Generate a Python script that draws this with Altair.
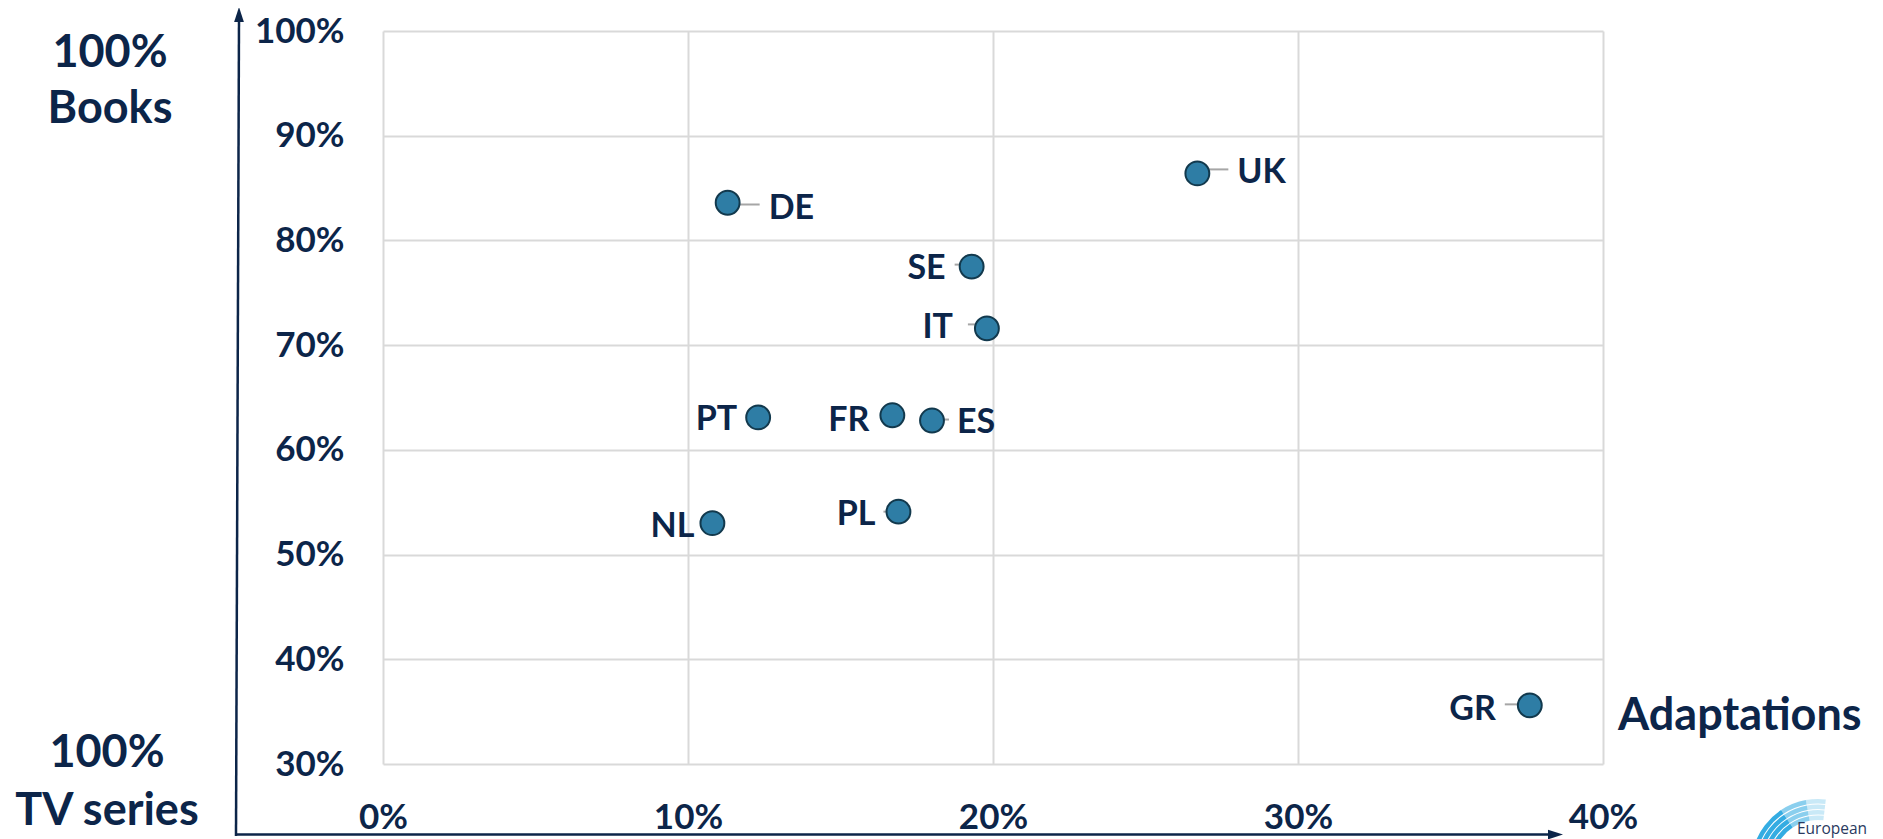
import altair as alt
import pandas as pd

# ---- data ----
countries = ["DE", "UK", "SE", "IT", "PT", "FR", "ES", "NL", "PL", "GR"]
adaptations = [11.3, 26.7, 19.3, 19.8, 12.3, 16.7, 18.0, 10.8, 16.9, 37.6]   # % (x)
books = [83.6, 86.4, 77.5, 71.6, 63.1, 63.3, 62.8, 53.0, 54.1, 35.6]         # % (y)

x_ticks = [0, 10, 20, 30, 40]
y_ticks = [30, 40, 50, 60, 70, 80, 90, 100]

# ---- label layout (pixels) ----
label_side = ["left", "left", "right", "right", "right", "right", "left", "right", "right", "right"]
label_dx = [41, 40, -26, -34, -21, -23, 25, -18, -23, -34]
label_dy = [6, -0.6, 2, 0, 2.6, 5.6, 2, 3.7, 3.7, 4.3]
lead_len = [32, 31, -17, -19, 0, 0, 17, 0, -15, -25]
lead_dy = [1.7, -4, -2, -4, 0, 0, -1, 0, 0, -1]

W, H = 1220, 733
X0, X1, Y0, Y1 = 0, 40, 30, 100
PX = (X1 - X0) / W
PY = (Y1 - Y0) / H

NAVY = "#0c2549"
FONT = "Lato"

df = pd.DataFrame({
    "country": countries,
    "adaptations": adaptations,
    "books": books,
    "side": label_side,
    "dx": label_dx,
    "dy": label_dy,
    "lead": lead_len,
    "leaddy": lead_dy,
})

xscale = alt.Scale(domain=[X0, X1], nice=False, zero=False)
yscale = alt.Scale(domain=[Y0, Y1], nice=False, zero=False)

common_axis = dict(
    title=None, grid=True, gridColor="#d9d9d9", gridWidth=2, domain=False, ticks=False,
    labelExpr="datum.value + '%'", labelFont=FONT, labelFontWeight="bold", labelFontSize=35,
    labelColor=NAVY, labelFlush=False, labelOverlap=False, labelBound=False,
)
xaxis = alt.Axis(values=x_ticks, labelPadding=36, **common_axis)
yaxis = alt.Axis(values=y_ticks, labelPadding=39, **common_axis)


def X(field):
    return alt.X(field, type="quantitative", scale=xscale, axis=xaxis)


def Y(field):
    return alt.Y(field, type="quantitative", scale=yscale, axis=yaxis)


base = alt.Chart(df).transform_calculate(
    lx=f"datum.adaptations + datum.dx * {PX}",
    ly=f"datum.books - datum.dy * {PY}",
    lx2=f"datum.adaptations + datum.lead * {PX}",
    leady=f"datum.books - datum.leaddy * {PY}",
)

leaders = base.transform_filter("datum.lead != 0").mark_rule(
    color="#a6a6a6", strokeWidth=2
).encode(x=X("adaptations"), x2="lx2:Q", y=Y("leady"))

points = base.mark_circle(
    size=570, color="#2E7DA5", opacity=1, stroke="#12394d", strokeWidth=2
).encode(x=X("adaptations"), y=Y("books"))

text_style = dict(baseline="middle", font=FONT, fontWeight="bold", fontSize=34, color=NAVY)
labels_left = base.transform_filter("datum.side == 'left'").mark_text(
    align="left", **text_style
).encode(x=X("lx"), y=Y("ly"), text="country:N")
labels_right = base.transform_filter("datum.side == 'right'").mark_text(
    align="right", **text_style
).encode(x=X("lx"), y=Y("ly"), text="country:N")

# ---- decorations (single-row data) ----
one = pd.DataFrame({"k": [0]})
deco = alt.Chart(one)

y_arrow = deco.mark_rule(color=NAVY, strokeWidth=2.5).encode(
    x=alt.value(-144), y=alt.value(-12), x2=alt.value(-147), y2=alt.value(805)
)
x_arrow = deco.mark_rule(color=NAVY, strokeWidth=2.5).encode(
    x=alt.value(-148), x2=alt.value(1170), y=alt.value(803.5)
)
y_head = deco.mark_point(
    shape="M0,-1L0.65,1L-0.65,1Z", size=225, filled=True, color=NAVY, opacity=1
).encode(x=alt.value(-144), y=alt.value(-16.5))
x_head = deco.mark_point(
    shape="M1,0L-1,0.65L-1,-0.65Z", size=225, filled=True, color=NAVY, opacity=1
).encode(x=alt.value(1172.5), y=alt.value(803.5))

title_style = dict(font=FONT, fontWeight="bold", fontSize=45, color=NAVY, baseline="alphabetic")
top_title = deco.mark_text(align="center", lineHeight=56, **title_style).encode(
    x=alt.value(-273), y=alt.value(36), text=alt.value(["100%", "Books"])
)
bottom_title = deco.mark_text(align="center", lineHeight=58, **title_style).encode(
    x=alt.value(-276), y=alt.value(736), text=alt.value(["100%", "TV series"])
)
x_title = deco.mark_text(align="left", **title_style).encode(
    x=alt.value(1235), y=alt.value(699), text=alt.value("Adaptations")
)

# logo (partly cut off at the bottom, as in the reference)
logo_layers = []
for r1, r2 in [(46, 50.5), (51.5, 56), (57, 61.5), (62.5, 67)]:
    logo_layers.append(deco.mark_arc(
        theta=4.35, theta2=5.7, innerRadius=r1, outerRadius=r2, color="#29a8e0", opacity=0.95
    ).encode(x=alt.value(1435), y=alt.value(835)))
    logo_layers.append(deco.mark_arc(
        theta=5.7, theta2=6.1, innerRadius=r1, outerRadius=r2, color="#29a8e0", opacity=0.55
    ).encode(x=alt.value(1435), y=alt.value(835)))
    logo_layers.append(deco.mark_arc(
        theta=6.1, theta2=6.4, innerRadius=r1, outerRadius=r2, color="#29a8e0", opacity=0.25
    ).encode(x=alt.value(1435), y=alt.value(835)))
logo_text = deco.mark_text(
    align="left", baseline="alphabetic", font="Open Sans", fontSize=15.5, color="#2a3a60"
).encode(x=alt.value(1414), y=alt.value(803), text=alt.value("European"))

chart = alt.layer(
    leaders, points, labels_left, labels_right,
    y_arrow, x_arrow, y_head, x_head,
    top_title, bottom_title, x_title,
    *logo_layers, logo_text,
).properties(
    width=W, height=H,
    autosize=alt.AutoSizeParams(type="none"),
    padding={"left": 375, "top": 23, "right": 272, "bottom": 75},
    background="white",
).configure_view(strokeWidth=0)

chart.save("out.html", embed_options={"renderer": "svg", "actions": False})
